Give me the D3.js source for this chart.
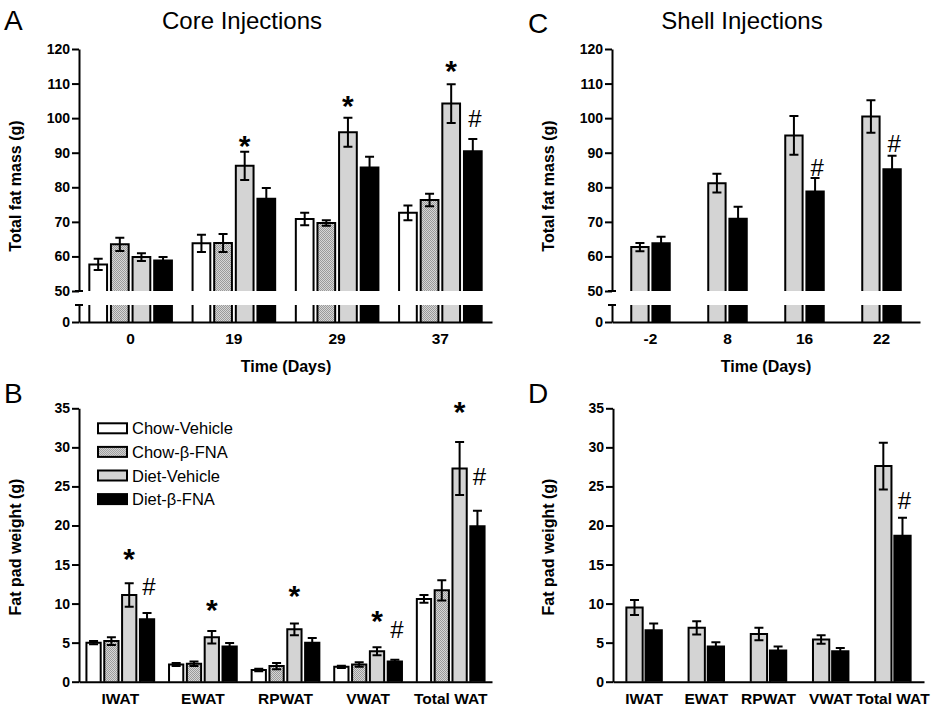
<!DOCTYPE html>
<html><head><meta charset="utf-8">
<script src="https://cdn.jsdelivr.net/npm/d3@7"></script>
<style>
body{margin:0;background:#fff}
svg{display:block}
text{font-family:Arial,"Liberation Sans",Helvetica,sans-serif;fill:#000}
</style>
</head><body>
<svg id="chart" width="931" height="717"></svg>
<script>
// ---------- DATA ----------
const seriesNames = ["Chow-Vehicle", "Chow-\u03b2-FNA", "Diet-Vehicle", "Diet-\u03b2-FNA"];

// Panel A: core injections, total fat mass (g)
const coreDays = ["0", "19", "29", "37"];
const coreChowVehicle = [57.7, 63.8, 70.8, 72.6];
const coreChowFNA     = [63.5, 63.9, 69.7, 76.3];
const coreDietVehicle = [59.8, 86.2, 95.9, 104.2];
const coreDietFNA     = [58.8, 76.7, 85.7, 90.4];
const coreChowVehicleErr = [1.6, 2.5, 1.8, 2.1];
const coreChowFNAErr     = [1.9, 2.6, 0.8, 1.8];
const coreDietVehicleErr = [1.1, 4.1, 4.2, 5.6];
const coreDietFNAErr     = [1.0, 3.1, 3.1, 3.6];
const coreMassMarks = [
  {cat: "19", series: 2, mark: "*", at: 92.9},
  {cat: "29", series: 2, mark: "*", at: 104.5},
  {cat: "37", series: 2, mark: "*", at: 114.6},
  {cat: "37", series: 3, mark: "#", at: 100.5}
];

// Panel C: shell injections, total fat mass (g)
const shellDays = ["-2", "8", "16", "22"];
const shellDietVehicle = [62.7, 81.2, 95.0, 100.5];
const shellDietFNA     = [63.8, 70.9, 78.8, 85.2];
const shellDietVehicleErr = [1.2, 2.7, 5.6, 4.7];
const shellDietFNAErr     = [1.9, 3.5, 3.9, 3.9];
const shellMassMarks = [
  {cat: "16", series: 3, mark: "#", at: 86.2},
  {cat: "22", series: 3, mark: "#", at: 93.2}
];

// Panel B: core injections, fat pad weight (g)
const fatPads = ["IWAT", "EWAT", "RPWAT", "VWAT", "Total WAT"];
const corePadChowVehicle = [5.0, 2.2, 1.5, 1.9, 10.6];
const corePadChowFNA     = [5.2, 2.3, 2.0, 2.2, 11.7];
const corePadDietVehicle = [11.1, 5.7, 6.7, 3.9, 27.3];
const corePadDietFNA     = [8.0, 4.5, 5.0, 2.6, 19.9];
const corePadChowVehicleErr = [0.2, 0.2, 0.15, 0.15, 0.5];
const corePadChowFNAErr     = [0.5, 0.3, 0.4, 0.3, 1.3];
const corePadDietVehicleErr = [1.5, 0.8, 0.75, 0.5, 3.4];
const corePadDietFNAErr     = [0.8, 0.45, 0.6, 0.2, 2.0];
const corePadMarks = [
  {cat: "IWAT", series: 2, mark: "*", at: 16.2},
  {cat: "IWAT", series: 3, mark: "#", at: 12.4},
  {cat: "EWAT", series: 2, mark: "*", at: 9.6},
  {cat: "RPWAT", series: 2, mark: "*", at: 11.4},
  {cat: "VWAT", series: 2, mark: "*", at: 8.2},
  {cat: "VWAT", series: 3, mark: "#", at: 6.9},
  {cat: "Total WAT", series: 2, mark: "*", at: 35.0},
  {cat: "Total WAT", series: 3, mark: "#", at: 26.5}
];

// Panel D: shell injections, fat pad weight (g)
const shellPadDietVehicle = [9.5, 6.9, 6.1, 5.4, 27.6];
const shellPadDietFNA     = [6.6, 4.5, 4.0, 3.9, 18.7];
const shellPadDietVehicleErr = [0.95, 0.85, 0.8, 0.55, 3.0];
const shellPadDietFNAErr     = [0.85, 0.55, 0.5, 0.4, 2.3];
const shellPadMarks = [
  {cat: "Total WAT", series: 3, mark: "#", at: 23.5}
];

const massTicks = [50, 60, 70, 80, 90, 100, 110, 120];
const padTicks = [0, 5, 10, 15, 20, 25, 30, 35];

// ---------- DRAWING ----------
const FONT = 'Arial, "Liberation Sans", Helvetica, sans-serif';
const svg = d3.select("#chart");
const defs = svg.append("defs");
const pat = defs.append("pattern").attr("id", "hatch").attr("patternUnits", "userSpaceOnUse")
  .attr("width", 2).attr("height", 2);
pat.append("rect").attr("width", 2).attr("height", 2).attr("fill", "#d6d6d6");
pat.append("rect").attr("width", 1).attr("height", 1).attr("fill", "#9a9a9a");
pat.append("rect").attr("x", 1).attr("y", 1).attr("width", 1).attr("height", 1).attr("fill", "#9a9a9a");

const fills = ["#ffffff", "url(#hatch)", "#d4d4d4", "#000000"];
const SW = 2;

function styleAxis(sel, size) {
  sel.attr("font-family", FONT).attr("font-size", size).attr("font-weight", "bold");
  sel.selectAll(".domain").attr("stroke", "#000").attr("stroke-width", SW);
  sel.selectAll(".tick line").attr("stroke", "#000").attr("stroke-width", SW);
  sel.selectAll(".tick text")
    .attr("fill", "#000")
    .attr("font-family", FONT).attr("font-size", size).attr("font-weight", "bold")
    .style("font-family", FONT).style("font-size", size + "px").style("font-weight", "700");
}

function drawPanel(cfg) {
  const g = svg.append("g");
  const x0 = d3.scaleBand().domain(cfg.cats).range(cfg.xRange)
    .paddingInner(cfg.pIn).paddingOuter(cfg.pOut);
  const x1 = d3.scaleBand().domain(cfg.series).range([0, x0.bandwidth()]).paddingInner(cfg.subPad);
  const y = cfg.y;
  const base = y.range()[0];
  const rows = [];
  cfg.cats.forEach((c, i) => cfg.series.forEach((s, j) => {
    rows.push({cat: c, s: s, v: cfg.values[j][i], e: cfg.errors[j][i]});
  }));
  const bx = d => x0(d.cat) + x1(d.s);
  const w = x1.bandwidth();

  // bars (upper part)
  g.selectAll("rect.bar").data(rows).join("rect").attr("class", "bar")
    .attr("x", bx).attr("width", w)
    .attr("y", d => y(d.v)).attr("height", d => base - y(d.v))
    .attr("fill", d => fills[d.s]);
  g.selectAll("path.barOut").data(rows).join("path").attr("class", "barOut")
    .attr("d", d => `M${bx(d)},${base}V${y(d.v)}H${bx(d) + w}V${base}`)
    .attr("fill", "none").attr("stroke", "#000").attr("stroke-width", SW);

  // lower part below the axis break
  if (cfg.yLow) {
    const yl = cfg.yLow;
    const lb = yl.range()[0], lt = yl.range()[1];
    g.selectAll("rect.barLow").data(rows).join("rect").attr("class", "barLow")
      .attr("x", bx).attr("width", w).attr("y", lt).attr("height", lb - lt)
      .attr("fill", d => fills[d.s]);
    g.selectAll("path.barLowOut").data(rows).join("path").attr("class", "barLowOut")
      .attr("d", d => `M${bx(d)},${lb}V${lt}M${bx(d) + w},${lt}V${lb}`)
      .attr("fill", "none").attr("stroke", "#000").attr("stroke-width", SW);
  }

  // error bars
  const cap = 4.5;
  g.selectAll("path.err").data(rows).join("path").attr("class", "err")
    .attr("d", d => {
      const cx = bx(d) + w / 2;
      const t = y(d.v + d.e), b = y(d.v - d.e);
      return `M${cx},${t}V${b}M${cx - cap},${t}H${cx + cap}M${cx - cap},${b}H${cx + cap}`;
    })
    .attr("fill", "none").attr("stroke", "#000").attr("stroke-width", SW);

  // significance marks
  g.selectAll("text.mark").data(cfg.marks).join("text").attr("class", "mark")
    .attr("x", d => x0(d.cat) + x1(d.series) + w / 2 + (d.mark === "#" ? 2 : 0))
    .attr("y", d => y(d.at) + (d.mark === "*" ? 13.5 : 10.5))
    .attr("text-anchor", "middle")
    .style("font-size", d => d.mark === "*" ? "30px" : "24px")
    .style("font-weight", d => d.mark === "*" ? "bold" : "normal")
    .text(d => d.mark);

  // y axis
  const xa = cfg.xRange[0];
  const ya = g.append("g").attr("transform", `translate(${xa},0)`)
    .call(d3.axisLeft(y).tickValues(cfg.ticks).tickFormat(d3.format("d"))
      .tickSize(7).tickPadding(2).tickSizeOuter(0));
  styleAxis(ya, 14);
  if (cfg.yLow) {
    const yl = cfg.yLow;
    const yb = g.append("g").attr("transform", `translate(${xa},0)`)
      .call(d3.axisLeft(yl).tickValues([0]).tickFormat(d3.format("d"))
        .tickSize(7).tickPadding(2).tickSizeOuter(0));
    styleAxis(yb, 14);
    // break caps
    g.append("path")
      .attr("d", `M${xa - 4},${yl.range()[1]}H${xa + 4}M${xa - 4},${base}H${xa + 4}`)
      .attr("stroke", "#000").attr("stroke-width", SW);
  }
  // x axis
  const xBase = cfg.yLow ? cfg.yLow.range()[0] : base;
  const xax = g.append("g").attr("transform", `translate(0,${xBase})`)
    .call(d3.axisBottom(x0).tickSize(0).tickPadding(11).tickSizeOuter(0));
  styleAxis(xax, 15.5);

  // labels
  g.append("text").attr("transform", `translate(${cfg.yLabelX},${cfg.yLabelY}) rotate(-90)`)
    .attr("text-anchor", "middle").style("font-size", "16px").style("font-weight", "bold")
    .text(cfg.yLabel);
  if (cfg.xLabel) {
    g.append("text").attr("x", cfg.xLabelX).attr("y", cfg.xLabelY).attr("text-anchor", "middle")
      .style("font-size", "16px").style("font-weight", "bold").text(cfg.xLabel);
  }
  if (cfg.title) {
    g.append("text").attr("x", cfg.titleX).attr("y", cfg.titleY).attr("text-anchor", "middle")
      .style("font-size", "24px").text(cfg.title);
  }
  g.append("text").attr("x", cfg.letterX).attr("y", cfg.letterY)
    .style("font-size", "28px").text(cfg.letter);
  return {g, x0, x1, y};
}

const yMassCoreUpper = d3.scaleLinear().domain([50, 120]).range([291, 49]);
const yMassCoreLower = d3.scaleLinear().domain([0, 5]).range([322, 305]);
const yMassShellUpper = d3.scaleLinear().domain([50, 120]).range([291, 49]);
const yMassShellLower = d3.scaleLinear().domain([0, 5]).range([322, 305]);
const yPadCore = d3.scaleLinear().domain([0, 35]).range([681.7, 408.3]);
const yPadShell = d3.scaleLinear().domain([0, 35]).range([681.7, 408.3]);

// Panel A
drawPanel({
  cats: coreDays, series: [0, 1, 2, 3],
  values: [coreChowVehicle, coreChowFNA, coreDietVehicle, coreDietFNA],
  errors: [coreChowVehicleErr, coreChowFNAErr, coreDietVehicleErr, coreDietFNAErr],
  marks: coreMassMarks,
  xRange: [79, 492], pIn: 0.2, pOut: 0.1, subPad: 0.18,
  y: yMassCoreUpper, yLow: yMassCoreLower, ticks: massTicks,
  yLabel: "Total fat mass (g)", yLabelX: 21, yLabelY: 186,
  xLabel: "Time (Days)", xLabelX: 286, xLabelY: 372,
  title: "Core Injections", titleX: 242, titleY: 29,
  letter: "A", letterX: 4, letterY: 30
});

// Panel C
drawPanel({
  cats: shellDays, series: [2, 3],
  values: [shellDietVehicle, shellDietFNA],
  errors: [shellDietVehicleErr, shellDietFNAErr],
  marks: shellMassMarks,
  xRange: [612, 920], pIn: 0.5, pOut: 0.25, subPad: 0.18,
  y: yMassShellUpper, yLow: yMassShellLower, ticks: massTicks,
  yLabel: "Total fat mass (g)", yLabelX: 554, yLabelY: 186,
  xLabel: "Time (Days)", xLabelX: 766, xLabelY: 372,
  title: "Shell Injections", titleX: 742, titleY: 29,
  letter: "C", letterX: 528, letterY: 33
});

// Panel B
const panelB = drawPanel({
  cats: fatPads, series: [0, 1, 2, 3],
  values: [corePadChowVehicle, corePadChowFNA, corePadDietVehicle, corePadDietFNA],
  errors: [corePadChowVehicleErr, corePadChowFNAErr, corePadDietVehicleErr, corePadDietFNAErr],
  marks: corePadMarks,
  xRange: [79, 492], pIn: 0.18, pOut: 0.09, subPad: 0.2,
  y: yPadCore, ticks: padTicks,
  yLabel: "Fat pad weight (g)", yLabelX: 21, yLabelY: 547,
  letter: "B", letterX: 4, letterY: 403
});

// Panel D
drawPanel({
  cats: fatPads, series: [2, 3],
  values: [shellPadDietVehicle, shellPadDietFNA],
  errors: [shellPadDietVehicleErr, shellPadDietFNAErr],
  marks: shellPadMarks,
  xRange: [613, 924], pIn: 0.43, pOut: 0.215, subPad: 0.15,
  y: yPadShell, ticks: padTicks,
  yLabel: "Fat pad weight (g)", yLabelX: 554, yLabelY: 547,
  letter: "D", letterX: 528, letterY: 403
});

// Legend (panel B)
const legend = panelB.g.append("g");
const legRows = legend.selectAll("g").data(seriesNames).join("g")
  .attr("transform", (d, i) => `translate(98,${428.3 + i * 23.6})`);
legRows.append("rect").attr("x", 0).attr("y", -5).attr("width", 29).attr("height", 10)
  .attr("fill", (d, i) => fills[i]).attr("stroke", "#000").attr("stroke-width", SW);
legRows.append("text").attr("x", 34).attr("y", 6).style("font-size", "16.5px").text(d => d);
</script>
</body></html>
